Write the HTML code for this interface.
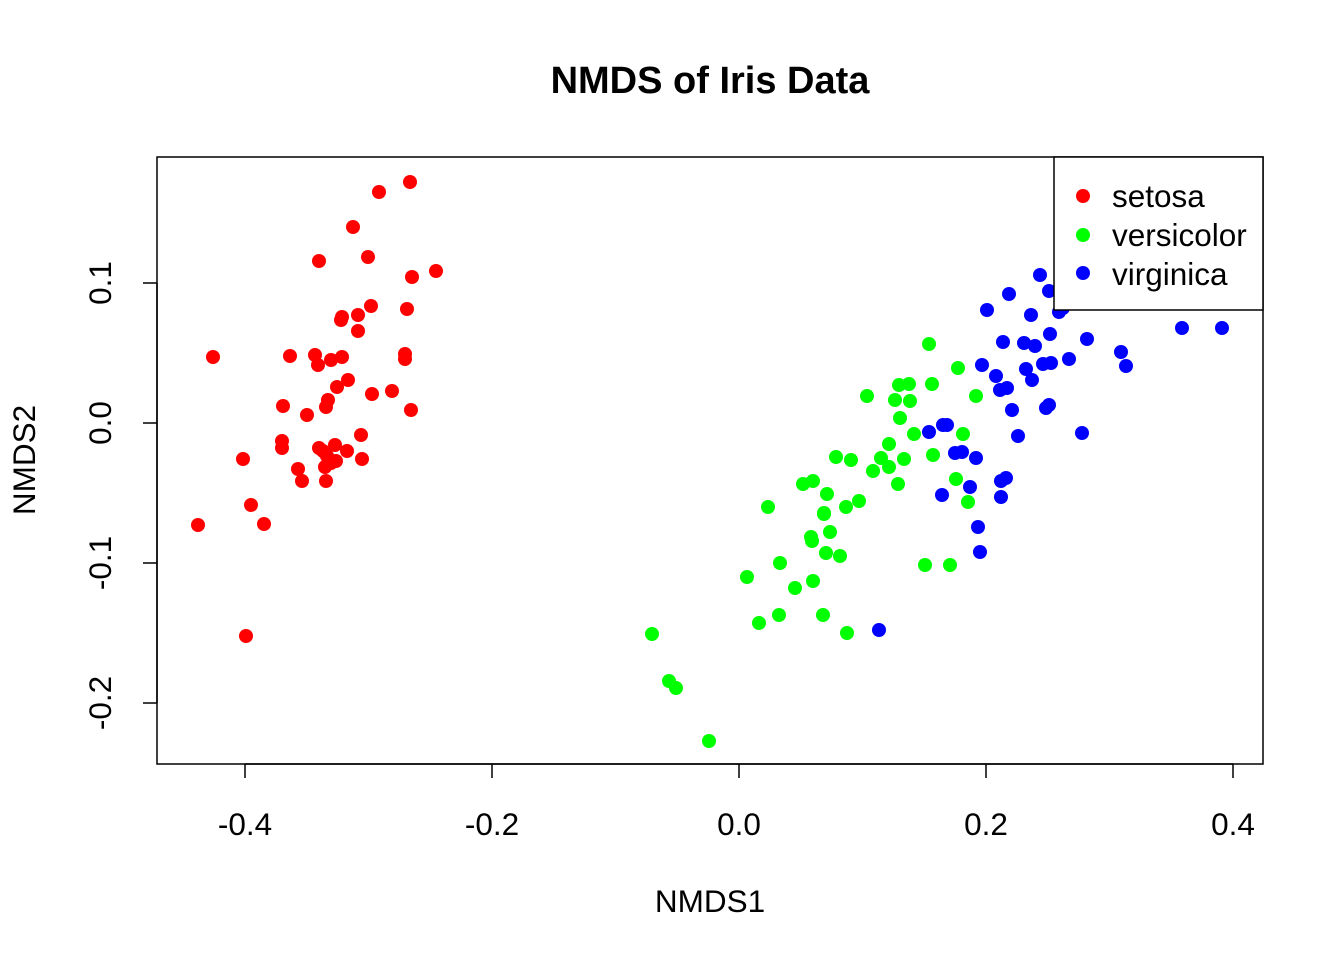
<!DOCTYPE html>
<html><head><meta charset="utf-8"><style>html,body{margin:0;padding:0;background:#fff}</style></head><body>
<svg width="1344" height="960" xmlns="http://www.w3.org/2000/svg" font-family="Liberation Sans, Arial, sans-serif">
<rect width="1344" height="960" fill="#fff"/>
<text x="710" y="93" text-anchor="middle" font-size="38" font-weight="bold">NMDS of Iris Data</text>
<rect x="157" y="157" width="1106" height="607" fill="none" stroke="#000" stroke-width="1.5"/>
<g stroke="#000" stroke-width="1.5">
<line x1="245" y1="764" x2="1233" y2="764"/>
<line x1="245" y1="764" x2="245" y2="778"/><line x1="492" y1="764" x2="492" y2="778"/><line x1="739" y1="764" x2="739" y2="778"/><line x1="986" y1="764" x2="986" y2="778"/><line x1="1233" y1="764" x2="1233" y2="778"/>
<line x1="157" y1="283" x2="157" y2="703"/>
<line x1="143" y1="283" x2="157" y2="283"/><line x1="143" y1="423" x2="157" y2="423"/><line x1="143" y1="563" x2="157" y2="563"/><line x1="143" y1="703" x2="157" y2="703"/>
</g>
<g font-size="31.5" text-anchor="middle">
<text x="245" y="835">-0.4</text><text x="492" y="835">-0.2</text><text x="739" y="835">0.0</text><text x="986" y="835">0.2</text><text x="1233" y="835">0.4</text>
<text transform="translate(111,283) rotate(-90)">0.1</text>
<text transform="translate(111,423) rotate(-90)">0.0</text>
<text transform="translate(111,563) rotate(-90)">-0.1</text>
<text transform="translate(111,703) rotate(-90)">-0.2</text>
<text x="710" y="912">NMDS1</text>
<text transform="translate(35,460) rotate(-90)">NMDS2</text>
</g>
<g fill="#ff0000" id="r"></g>
<g fill="#00ff00" id="g"></g>
<g fill="#0000ff" id="b"></g>
<rect x="1054" y="157" width="209" height="153" fill="#fff" stroke="#000" stroke-width="1.5"/>
<circle cx="1083" cy="196" r="7" fill="#ff0000"/>
<circle cx="1083" cy="235" r="7" fill="#00ff00"/>
<circle cx="1083" cy="273" r="7" fill="#0000ff"/>
<g font-size="31.5"><text x="1112" y="207">setosa</text><text x="1112" y="246">versicolor</text><text x="1112" y="285">virginica</text></g>
</svg>
<script>
var R=[[410,182],[379,192],[353,227],[368,257],[319,261],[436,271],[412,277],[371,306],[407,309],[358,315],[342,317],[341,320],[358,331],[213,357],[290,356],[315,355],[331,360],[342,357],[318,365],[405,354],[405,359],[348,380],[337,387],[392,391],[372,394],[328,400],[326,407],[283,406],[307,415],[411,410],[361,435],[335,445],[282,441],[282,448],[319,448],[347,451],[327,456],[336,461],[298,469],[325,467],[243,459],[362,459],[302,481],[326,481],[251,505],[198,525],[264,524],[246,636],[323,451],[331,463]];
var G=[[929,344],[899,385],[958,368],[932,384],[909,384],[867,396],[895,400],[976,396],[910,401],[900,418],[914,434],[963,434],[889,444],[836,457],[851,460],[881,458],[933,455],[889,467],[904,459],[873,471],[956,479],[803,484],[813,481],[898,484],[827,494],[859,501],[968,502],[768,507],[846,507],[824,513],[811,537],[812,541],[830,532],[826,553],[840,556],[780,563],[925,565],[950,565],[747,577],[813,581],[795,588],[779,615],[823,615],[759,623],[847,633],[652,634],[669,681],[676,688],[709,741],[824,514]];
var B=[[1040,275],[1009,294],[1049,291],[987,310],[1031,315],[1059,312],[1063,308],[1050,334],[1003,342],[1024,343],[1035,346],[1087,339],[1121,352],[1182,328],[1222,328],[1069,359],[1051,363],[1043,364],[982,365],[1026,369],[1126,366],[996,376],[1007,388],[1000,390],[1012,410],[1046,408],[1049,405],[929,432],[1082,433],[943,425],[947,425],[1018,436],[962,452],[955,453],[976,458],[1006,478],[1001,481],[942,495],[970,487],[1001,497],[978,527],[980,552],[879,630],[1032,380]];
function d(id,a){var g=document.getElementById(id),s='';a.forEach(function(p){s+='<circle cx="'+p[0]+'" cy="'+p[1]+'" r="7"/>';});g.innerHTML=s;}
d('r',R);d('g',G);d('b',B);
</script>
</body></html>
